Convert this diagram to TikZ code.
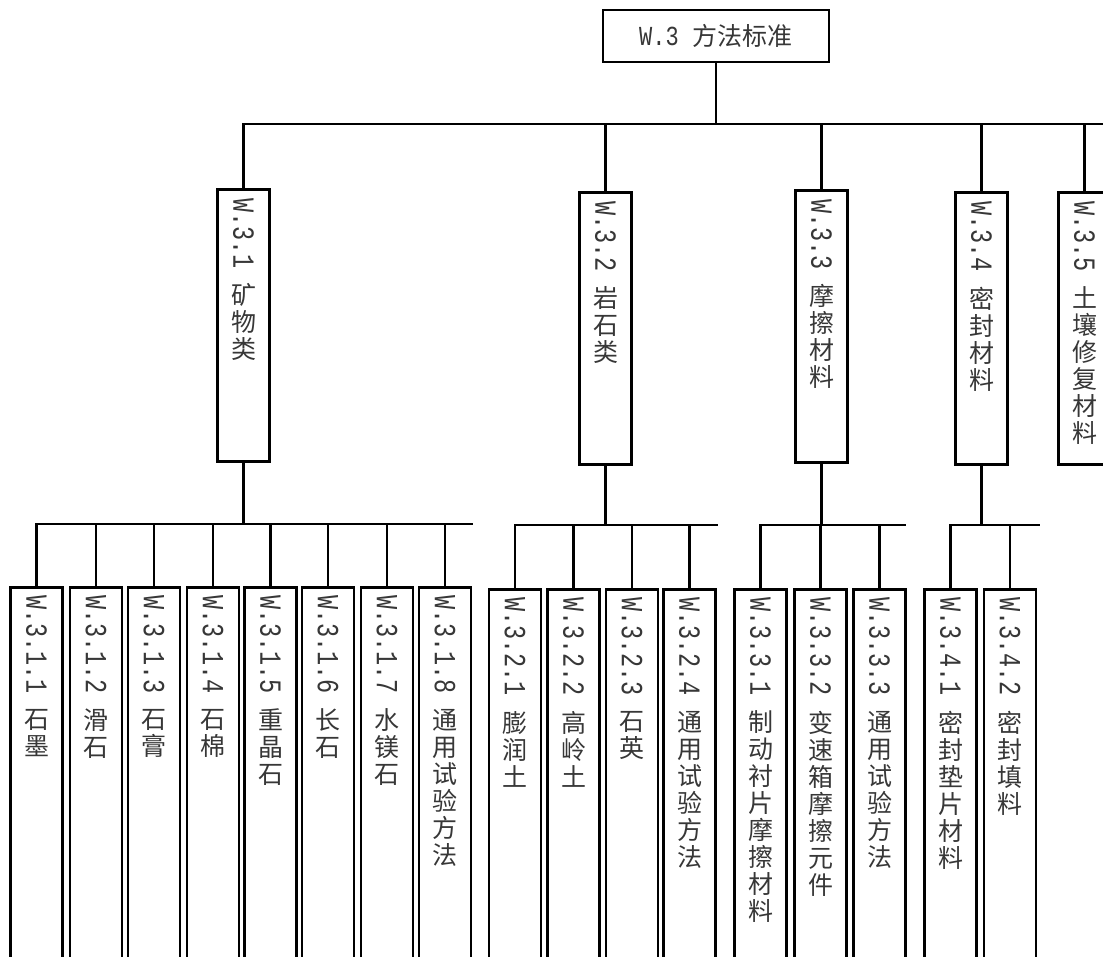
\documentclass[tikz,border=0pt]{standalone}
\usepackage{fontspec}
\usepackage{graphicx}
\newfontfamily\cjk{Noto Sans CJK SC}
\newfontfamily\monofnt{Liberation Mono}
\definecolor{txt}{RGB}{55,55,55}
\newcommand{\vtext}[2]{\rotatebox{-90}{\scalebox{0.98}[1.28]{\monofnt\fontsize{24pt}{24pt}\selectfont #1}}\\[14pt]#2}
\begin{document}
\begin{tikzpicture}[x=1pt,y=-1pt,
  box/.style={draw=black, line width=2.6pt, fill=white, minimum width=52pt, inner sep=0pt, anchor=north},
  midbox/.style={box, minimum height=272pt},
  leafbox/.style={box, minimum height=420pt},
  lbl/.style={font={\cjk\fontsize{25pt}{27pt}\selectfont}, text=txt, align=center, inner sep=0pt, anchor=north},
  conn/.style={line width=2.6pt, line cap=rect}]
\useasboundingbox[fill=white] (0,0) rectangle (1103,957);

% root
\node[draw=black, line width=2.6pt, minimum width=226pt, minimum height=52pt, inner sep=0pt,
      text=txt, font={\cjk\fontsize{25pt}{27pt}\selectfont}] (w3) at (716,36)
      {\scalebox{1}[1.25]{\monofnt\fontsize{22pt}{22pt}\selectfont W.3}\hspace{14pt}方法标准};

% level 2
\node[midbox] (w31) at (243.5,188) {};
\node[midbox] (w32) at (605.5,191) {};
\node[midbox] (w33) at (821.5,189) {};
\node[midbox] (w34) at (981.5,191) {};
\node[midbox] (w35) at (1084.5,191) {};
\node[lbl] (t31) at ([yshift=-10pt]w31.north) {\vtext{W.3.1}{矿\\物\\类}};
\node[lbl] (t32) at ([yshift=-10pt]w32.north) {\vtext{W.3.2}{岩\\石\\类}};
\node[lbl] (t33) at ([yshift=-10pt]w33.north) {\vtext{W.3.3}{摩\\擦\\材\\料}};
\node[lbl] (t34) at ([yshift=-10pt]w34.north) {\vtext{W.3.4}{密\\封\\材\\料}};
\node[lbl] (t35) at ([yshift=-10pt]w35.north) {\vtext{W.3.5}{土\\壤\\修\\复\\材\\料}};

% level 3, group 1
\node[leafbox] (w311) at (36.5,586) {};
\node[leafbox] (w312) at (96,586) {};
\node[leafbox] (w313) at (154,586) {};
\node[leafbox] (w314) at (213,586) {};
\node[leafbox] (w315) at (270.5,586) {};
\node[leafbox] (w316) at (328,586) {};
\node[leafbox] (w317) at (387,586) {};
\node[leafbox] (w318) at (445,586) {};
\node[lbl] (t311) at ([yshift=-9pt]w311.north) {\vtext{W.3.1.1}{石\\墨}};
\node[lbl] (t312) at ([yshift=-9pt]w312.north) {\vtext{W.3.1.2}{滑\\石}};
\node[lbl] (t313) at ([yshift=-9pt]w313.north) {\vtext{W.3.1.3}{石\\膏}};
\node[lbl] (t314) at ([yshift=-9pt]w314.north) {\vtext{W.3.1.4}{石\\棉}};
\node[lbl] (t315) at ([yshift=-9pt]w315.north) {\vtext{W.3.1.5}{重\\晶\\石}};
\node[lbl] (t316) at ([yshift=-9pt]w316.north) {\vtext{W.3.1.6}{长\\石}};
\node[lbl] (t317) at ([yshift=-9pt]w317.north) {\vtext{W.3.1.7}{水\\镁\\石}};
\node[lbl] (t318) at ([yshift=-9pt]w318.north) {\vtext{W.3.1.8}{通\\用\\试\\验\\方\\法}};

% group 2
\node[leafbox] (w321) at (515,588) {};
\node[leafbox] (w322) at (573.5,588) {};
\node[leafbox] (w323) at (632,588) {};
\node[leafbox] (w324) at (689.5,588) {};
\node[lbl] (t321) at ([yshift=-9pt]w321.north) {\vtext{W.3.2.1}{膨\\润\\土}};
\node[lbl] (t322) at ([yshift=-9pt]w322.north) {\vtext{W.3.2.2}{高\\岭\\土}};
\node[lbl] (t323) at ([yshift=-9pt]w323.north) {\vtext{W.3.2.3}{石\\英}};
\node[lbl] (t324) at ([yshift=-9pt]w324.north) {\vtext{W.3.2.4}{通\\用\\试\\验\\方\\法}};

% group 3
\node[leafbox] (w331) at (760.5,588) {};
\node[leafbox] (w332) at (820.5,588) {};
\node[leafbox] (w333) at (879.5,588) {};
\node[lbl] (t331) at ([yshift=-9pt]w331.north) {\vtext{W.3.3.1}{制\\动\\衬\\片\\摩\\擦\\材\\料}};
\node[lbl] (t332) at ([yshift=-9pt]w332.north) {\vtext{W.3.3.2}{变\\速\\箱\\摩\\擦\\元\\件}};
\node[lbl] (t333) at ([yshift=-9pt]w333.north) {\vtext{W.3.3.3}{通\\用\\试\\验\\方\\法}};

% group 4
\node[leafbox] (w341) at (950.5,588) {};
\node[leafbox] (w342) at (1010,588) {};
\node[lbl] (t341) at ([yshift=-9pt]w341.north) {\vtext{W.3.4.1}{密\\封\\垫\\片\\材\\料}};
\node[lbl] (t342) at ([yshift=-9pt]w342.north) {\vtext{W.3.4.2}{密\\封\\填\\料}};

% connectors: root to level 2
\coordinate (busT) at (0,124);
\coordinate (busTend) at (1112,124);
\draw[conn] (w3.south) -- (w3.south |- busT);
\draw[conn] (w31.north |- busT) -- (busTend);
\foreach \m in {w31,w32,w33,w34,w35} \draw[conn] (\m.north) -- (\m.north |- busT);

% group 1
\coordinate (bus1) at (0,524);
\coordinate (bus1end) at (472,524);
\draw[conn] (w31.south) -- (w31.south |- bus1);
\draw[conn] (w311.north |- bus1) -- (bus1end);
\foreach \m in {w311,w312,w313,w314,w315,w316,w317,w318} \draw[conn] (\m.north) -- (\m.north |- bus1);

% group 2
\coordinate (bus2) at (0,525);
\coordinate (bus2end) at (717,525);
\draw[conn] (w32.south) -- (w32.south |- bus2);
\draw[conn] (w321.north |- bus2) -- (bus2end);
\foreach \m in {w321,w322,w323,w324} \draw[conn] (\m.north) -- (\m.north |- bus2);

% group 3
\coordinate (bus3) at (0,525);
\coordinate (bus3end) at (905,525);
\draw[conn] (w33.south) -- (w33.south |- bus3);
\draw[conn] (w331.north |- bus3) -- (bus3end);
\foreach \m in {w331,w332,w333} \draw[conn] (\m.north) -- (\m.north |- bus3);

% group 4
\coordinate (bus4) at (0,525);
\coordinate (bus4end) at (1039,525);
\draw[conn] (w34.south) -- (w34.south |- bus4);
\draw[conn] (w341.north |- bus4) -- (bus4end);
\foreach \m in {w341,w342} \draw[conn] (\m.north) -- (\m.north |- bus4);
\end{tikzpicture}
\end{document}
